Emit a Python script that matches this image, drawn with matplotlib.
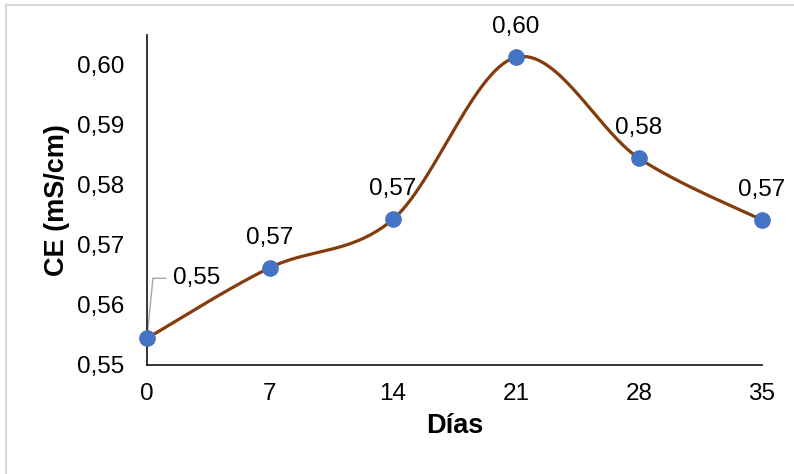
import numpy as np
import matplotlib.pyplot as plt
from matplotlib.lines import Line2D

# --- DATOS ---
dias = [0, 7, 14, 21, 28, 35]
ce = [0.55445, 0.56622, 0.57428, 0.60128, 0.58445, 0.57417]
etiquetas = ["0,55", "0,57", "0,57", "0,60", "0,58", "0,57"]
yticks = [0.55, 0.56, 0.57, 0.58, 0.59, 0.60]
ytick_labels = ["0,55", "0,56", "0,57", "0,58", "0,59", "0,60"]


def suavizado_excel(x, y, n=40):
    # spline tipo Excel (Bezier con puntos de control a 1/6)
    x = np.asarray(x, float)
    y = np.asarray(y, float)
    px = np.concatenate([[x[0]], x, [x[-1]]])
    py = np.concatenate([[y[0]], y, [y[-1]]])
    xs, ys = [], []
    t = np.linspace(0, 1, n)
    for i in range(1, len(px) - 2):
        p0 = np.array([px[i], py[i]])
        p3 = np.array([px[i + 1], py[i + 1]])
        c1 = p0 + (p3 - np.array([px[i - 1], py[i - 1]])) / 6
        c2 = p3 - (np.array([px[i + 2], py[i + 2]]) - p0) / 6
        b = ((1 - t) ** 3)[:, None] * p0 + (3 * (1 - t) ** 2 * t)[:, None] * c1 \
            + (3 * (1 - t) * t ** 2)[:, None] * c2 + (t ** 3)[:, None] * p3
        xs.extend(b[:, 0])
        ys.extend(b[:, 1])
    return np.array(xs), np.array(ys)


plt.rcParams['font.family'] = ['Liberation Sans', 'DejaVu Sans']
FS = 17.5

fig = plt.figure(figsize=(7.94, 4.74), dpi=100)
ax = fig.add_axes([0.1851, 0.2300, 0.9597 - 0.1851, 0.9262 - 0.2300])

xs, ys = suavizado_excel(dias, ce)
ax.plot(xs, ys, color='#843C0C', linewidth=2.3, solid_capstyle='round', zorder=2)
ax.plot(dias, ce, 'o', color='#4472C4', markersize=11, zorder=3, clip_on=False)

# etiquetas de datos
for i, (x, y, lab) in enumerate(zip(dias, ce, etiquetas)):
    if i == 0:
        continue
    ax.annotate(lab, (x, y), xytext=(0, 30), textcoords='offset pixels',
                ha='center', va='center', fontsize=FS)

# primera etiqueta con línea guía
ax.annotate(etiquetas[0], (dias[0], ce[0]), xytext=(50, 60), textcoords='offset pixels',
            ha='center', va='center', fontsize=FS)
ax.plot([dias[0], 0.34, 1.08], [ce[0], ce[0] + 0.0100, ce[0] + 0.0100],
        color='#a6a6a6', linewidth=1, zorder=1, clip_on=False)

ax.set_xlim(0, 35)
ax.set_ylim(0.55, 0.605)
ax.set_xticks(dias)
ax.set_xticklabels([str(d) for d in dias], fontsize=FS)
ax.set_yticks(yticks)
ax.set_yticklabels(ytick_labels, fontsize=FS)
ax.tick_params(length=0, pad=13)
ax.tick_params(axis='y', pad=16.5)

for s in ['top', 'right']:
    ax.spines[s].set_visible(False)
for s in ['left', 'bottom']:
    ax.spines[s].set_color('#262626')
    ax.spines[s].set_linewidth(1.3)

ax.set_xlabel('Días', fontsize=19.5, fontweight='bold', labelpad=6)
ax.set_ylabel('CE (mS/cm)', fontsize=19.5, fontweight='bold', labelpad=5)

# borde gris del gráfico (solo izquierda y arriba visibles)
fig.add_artist(Line2D([6 / 794, 6 / 794], [0, 1 - 5 / 474], transform=fig.transFigure,
                      color='#d9d9d9', linewidth=1.5))
fig.add_artist(Line2D([6 / 794, 1], [1 - 5 / 474, 1 - 5 / 474], transform=fig.transFigure,
                      color='#d9d9d9', linewidth=1.5))

plt.savefig('out.png', dpi=100)
